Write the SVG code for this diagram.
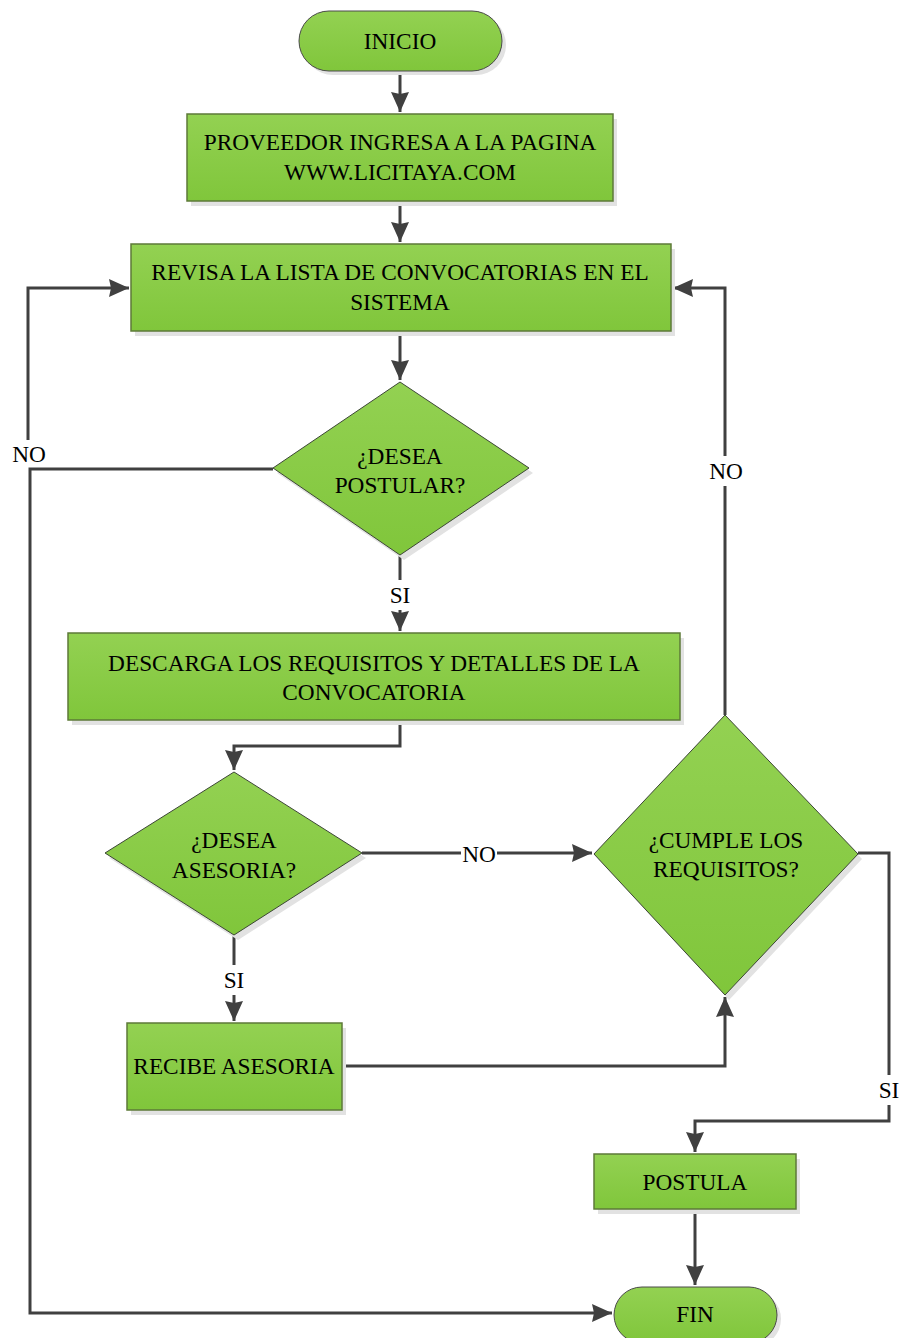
<svg xmlns="http://www.w3.org/2000/svg" width="901" height="1338" viewBox="0 0 901 1338">
<defs>
<linearGradient id="g" x1="0" y1="0" x2="0" y2="1">
<stop offset="0" stop-color="#93d152"/>
<stop offset="1" stop-color="#80c63b"/>
</linearGradient>
<marker id="ah" markerUnits="userSpaceOnUse" markerWidth="20" markerHeight="20" viewBox="0 0 20 20" refX="20" refY="10" orient="auto">
<path d="M0,1 L20,10 L0,19 L2,10 Z" fill="#404040"/>
</marker>
<style>
.box{fill:url(#g);stroke:#5d7a38;stroke-width:1.5}
.dia{fill:url(#g);stroke:#3c4636;stroke-width:1}
.term{fill:url(#g);stroke:#4a4a4a;stroke-width:1}
.sh{fill:#e2e2e2}
.t{font-family:"Liberation Serif","Times New Roman",serif;font-size:23.3px;fill:#000;text-anchor:middle}
.c{fill:none;stroke:#404040;stroke-width:3}
.lb{fill:#fff}
</style>
</defs>
<rect width="901" height="1338" fill="#fff"/>
<g id="connectors">
<path class="c" d="M400,71 V112" marker-end="url(#ah)"/>
<path class="c" d="M400,201 V242" marker-end="url(#ah)"/>
<path class="c" d="M400,331 V380" marker-end="url(#ah)"/>
<path class="c" d="M400,555 V631" marker-end="url(#ah)"/>
<path class="c" d="M400,720 V746 H234 V770" marker-end="url(#ah)"/>
<path class="c" d="M234,935 V1021" marker-end="url(#ah)"/>
<path class="c" d="M362,853 H592" marker-end="url(#ah)"/>
<path class="c" d="M342,1066 H725 V997" marker-end="url(#ah)"/>
<path class="c" d="M725,715 V288 H673" marker-end="url(#ah)"/>
<path class="c" d="M858,853 H889 V1121 H695 V1152" marker-end="url(#ah)"/>
<path class="c" d="M695,1209 V1285" marker-end="url(#ah)"/>
<path class="c" d="M28,440 V288 H129" marker-end="url(#ah)"/>
<path class="c" d="M273,469 H30 V1313 H612" marker-end="url(#ah)"/>
<rect class="lb" x="387" y="580" width="26" height="30"/>
<text class="t" x="400" y="603">SI</text>
<rect class="lb" x="221" y="965" width="26" height="30"/>
<text class="t" x="234" y="988">SI</text>
<rect class="lb" x="876" y="1075" width="25" height="30"/>
<text class="t" x="889" y="1098">SI</text>
<rect class="lb" x="461" y="840" width="36" height="28"/>
<text class="t" x="479" y="862">NO</text>
<rect class="lb" x="707" y="456" width="38" height="30"/>
<text class="t" x="726" y="479">NO</text>
<text class="t" x="29" y="462">NO</text>
</g>
<g id="inicio">
<rect class="sh" x="303" y="15" width="203" height="60" rx="30"/>
<rect class="term" x="299" y="11" width="203" height="60" rx="30"/>
<text class="t" x="400" y="49">INICIO</text>
</g>
<g id="proveedor">
<rect class="sh" x="191" y="119" width="426" height="87"/>
<rect class="box" x="187" y="114" width="426" height="87"/>
<text class="t" x="400" y="150">PROVEEDOR INGRESA A LA PAGINA</text>
<text class="t" x="400" y="180">WWW.LICITAYA.COM</text>
</g>
<g id="revisa">
<rect class="sh" x="135" y="249" width="540" height="87"/>
<rect class="box" x="131" y="244" width="540" height="87"/>
<text class="t" x="400" y="280">REVISA LA LISTA DE CONVOCATORIAS EN EL</text>
<text class="t" x="400" y="310">SISTEMA</text>
</g>
<g id="desea-postular">
<polygon class="sh" points="404,387 533,473 404,560 277,473"/>
<polygon class="dia" points="400,382 529,468 400,555 273,468"/>
<text class="t" x="400" y="464">¿DESEA</text>
<text class="t" x="400" y="493">POSTULAR?</text>
</g>
<g id="descarga">
<rect class="sh" x="72" y="638" width="612" height="87"/>
<rect class="box" x="68" y="633" width="612" height="87"/>
<text class="t" x="374" y="671">DESCARGA LOS REQUISITOS Y DETALLES DE LA</text>
<text class="t" x="374" y="700">CONVOCATORIA</text>
</g>
<g id="desea-asesoria">
<polygon class="sh" points="238,777 366,858 238,940 109,858"/>
<polygon class="dia" points="234,772 362,853 234,935 105,853"/>
<text class="t" x="234" y="848">¿DESEA</text>
<text class="t" x="234" y="878">ASESORIA?</text>
</g>
<g id="cumple">
<polygon class="sh" points="729,720 862,859 729,1000 598,859"/>
<polygon class="dia" points="725,715 858,854 725,995 594,854"/>
<text class="t" x="726" y="848">¿CUMPLE LOS</text>
<text class="t" x="726" y="877">REQUISITOS?</text>
</g>
<g id="recibe">
<rect class="sh" x="131" y="1028" width="215" height="87"/>
<rect class="box" x="127" y="1023" width="215" height="87"/>
<text class="t" x="234" y="1074">RECIBE ASESORIA</text>
</g>
<g id="postula">
<rect class="sh" x="598" y="1159" width="202" height="55"/>
<rect class="box" x="594" y="1154" width="202" height="55"/>
<text class="t" x="695" y="1190">POSTULA</text>
</g>
<g id="fin">
<rect class="sh" x="618" y="1291" width="163" height="56" rx="28"/>
<rect class="term" x="614" y="1287" width="163" height="56" rx="28"/>
<text class="t" x="695" y="1322">FIN</text>
</g>
</svg>
